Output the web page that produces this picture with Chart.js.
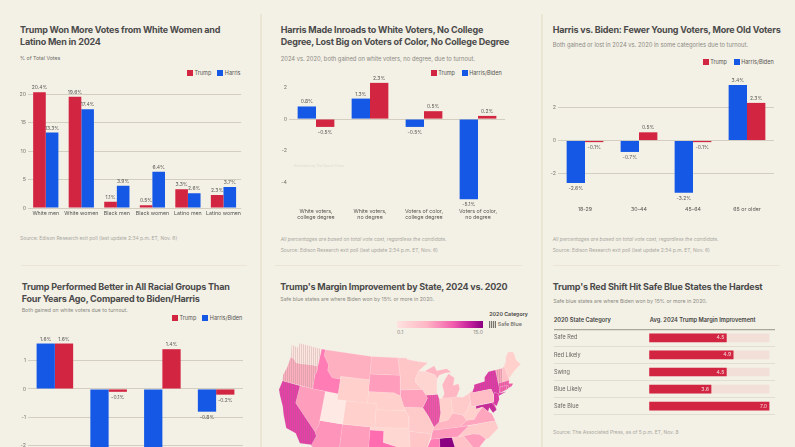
<!DOCTYPE html>
<html>
<head>
<meta charset="utf-8">
<title>Exit poll charts</title>
<script src="https://cdn.jsdelivr.net/npm/chart.js@4"></script>
<style>
  html, body { margin: 0; padding: 0; background: #f3f0e6; }
  body { position: relative; width: 795px; height: 447px; overflow: hidden; font-family: Inter, sans-serif; }
  canvas { position: absolute; }
  .t { position: absolute; white-space: nowrap; transform: translateY(-50%); }
  .title { font-size: 9px; font-weight: 700; letter-spacing: -0.2px; color: #4b4b4b; }
  .sub { font-size: 5.2px; color: #8b8b82; }
  .wide { font-size: 5.8px; }
  .src { font-size: 4.95px; color: #a9a89e; }
  .lg { font-size: 5.5px; color: #55554f; }
  .box { position: absolute; width: 6px; height: 6px; }
  .rule { position: absolute; background: #ebe5d3; }
  .hdr { font-size: 5.7px; font-weight: 600; color: #44443f; }
  .small { font-size: 5.3px; }
</style>
</head>
<body>
<script>
// =====================================
// DATA
// =====================================
const voteGroups = ["White men", "White women", "Black men", "Black women", "Latino men", "Latino women"];
const voteTrump = [20.4, 19.6, 1.1, 0.5, 3.3, 2.3];
const voteHarris = [13.3, 17.4, 3.9, 6.4, 2.6, 3.7];

const degreeGroups = [["White voters,", "college degree"], ["White voters,", "no degree"], ["Voters of color,", "college degree"], ["Voters of color,", "no degree"]];
const degreeBiden = [0.8, 1.3, -0.5, -5.1];
const degreeTrump = [-0.5, 2.3, 0.5, 0.2];

const ageGroups = ["18-29", "30-44", "45-64", "65 or older"];
const ageBiden = [-2.6, -0.7, -3.2, 3.4];
const ageTrump = [-0.1, 0.5, -0.1, 2.3];

const raceGroups = ["White", "Black", "Latino", "Other"];
const raceBiden = [1.6, -2.9, -3.6, -0.8];
const raceTrump = [1.6, -0.1, 1.4, -0.2];

const shiftCategories = ["Safe Red", "Red Likely", "Swing", "Blue Likely", "Safe Blue"];
const shiftValues = [4.5, 4.9, 4.5, 3.6, 7.0];
const shiftTrack = [7, 7, 7, 7, 7];

// state outlines as [lon, lat], roughly traced
const stateShapes = {
  WA: [[-124.7,48.4],[-123,48.2],[-122.8,49],[-117,49],[-117,46],[-119,45.9],[-121,45.7],[-122.3,45.6],[-123.2,46.2],[-124,46.3]],
  OR: [[-124,46.3],[-123.2,46.2],[-122.3,45.6],[-121,45.7],[-119,45.9],[-117,46],[-116.9,45],[-117.2,44.4],[-117,42],[-124.2,42],[-124.5,43],[-124.1,44.5]],
  CA: [[-124.2,42],[-120,42],[-120,39],[-114.6,35],[-114.1,34.3],[-114.7,32.7],[-117.1,32.5],[-118.4,34],[-120.6,34.5],[-121.9,36.6],[-122.5,37.8],[-123.8,39.5],[-124.4,40.4]],
  NV: [[-120,42],[-114,42],[-114,36.2],[-114.6,35],[-120,39]],
  ID: [[-117,49],[-116,49],[-116,48],[-114.5,46.6],[-114.4,45.6],[-113,44.5],[-111,44.5],[-111,42],[-117,42],[-117.2,44.4],[-116.9,45],[-117,46]],
  MT: [[-116,49],[-104,49],[-104,45],[-111,45],[-111,44.5],[-113,44.5],[-114.4,45.6],[-114.5,46.6],[-116,48]],
  WY: [[-111,45],[-104,45],[-104,41],[-111,41]],
  UT: [[-114,42],[-111,42],[-111,41],[-109,41],[-109,37],[-114,37]],
  AZ: [[-114,37],[-109,37],[-109,31.3],[-111,31.3],[-114.8,32.5],[-114.7,32.7],[-114.1,34.3],[-114.6,35],[-114,36.2]],
  CO: [[-109,41],[-102,41],[-102,37],[-109,37]],
  NM: [[-109,37],[-103,37],[-103,32],[-106.6,32],[-106.5,31.8],[-108.2,31.8],[-108.2,31.3],[-109,31.3]],
  ND: [[-104,49],[-97.2,49],[-96.6,46],[-104,46]],
  SD: [[-104,46],[-96.6,46],[-96.5,42.5],[-98,43],[-104,43]],
  NE: [[-104,43],[-98,43],[-96.5,42.5],[-95.4,40],[-102,40],[-102,41],[-104,41]],
  KS: [[-102,40],[-95.4,40],[-94.6,39],[-94.6,37],[-102,37]],
  OK: [[-103,37],[-94.6,37],[-94.4,33.6],[-97,33.8],[-100,34.5],[-100,36.5],[-103,36.5]],
  TX: [[-103,36.5],[-100,36.5],[-100,34.5],[-97,33.8],[-94.4,33.6],[-94,33],[-94,31],[-93.7,29.7],[-95,29],[-97.2,27.5],[-97.2,26],[-99,26.5],[-101,29.7],[-102.5,29.8],[-104.5,29.7],[-106.5,31.8],[-106.6,32],[-103,32]],
  MN: [[-97.2,49],[-95,49],[-94.7,48.7],[-92,48.3],[-89.6,48],[-92,46.7],[-92.8,45.5],[-92.8,44.7],[-91.3,43.5],[-96.5,43.5],[-96.6,46]],
  IA: [[-96.5,43.5],[-91.3,43.5],[-90.2,42],[-91.4,40.4],[-95.7,40.6],[-96.5,42.5]],
  MO: [[-95.7,40.6],[-91.4,40.4],[-90.2,38.8],[-89.2,37],[-89.7,36],[-90.4,36],[-94.6,36.5],[-94.6,39],[-95.4,40]],
  AR: [[-94.6,36.5],[-90.4,36],[-89.7,36],[-91.2,33],[-94,33],[-94.4,33.6]],
  LA: [[-94,33],[-91.2,33],[-91,31],[-89.7,31],[-89.5,30.2],[-89.2,29.2],[-91.5,29.4],[-93.7,29.7],[-94,31]],
  WI: [[-92,46.7],[-90.5,46.6],[-88,45.8],[-87.6,45.1],[-87.9,43],[-87.8,42.5],[-90.6,42.5],[-91.3,43.5],[-92.8,44.7],[-92.8,45.5]],
  IL: [[-90.6,42.5],[-87.8,42.5],[-87.5,41.7],[-87.5,39.3],[-88,37.8],[-89.2,37],[-90.2,38.8],[-91.4,40.4],[-90.2,42]],
  MI: [[-86.8,41.8],[-84.8,41.7],[-83.5,41.7],[-82.5,43],[-82.6,43.9],[-83.9,43.7],[-83.4,45],[-84.7,45.8],[-85.6,45],[-86.5,44],[-86.2,42.5]],
  MIU: [[-90.5,46.6],[-88,47.4],[-87.5,46.5],[-85,46.7],[-84,46],[-85.5,46],[-87,45.7],[-87.6,45.1],[-88,45.8]],
  IN: [[-87.5,41.7],[-86.8,41.8],[-84.8,41.7],[-84.8,39.1],[-86,38],[-88,37.8],[-87.5,39.3]],
  OH: [[-84.8,41.7],[-83.5,41.7],[-82,41.5],[-80.5,42],[-80.5,40.6],[-81.7,39],[-82.6,38.5],[-84.8,39.1]],
  KY: [[-89.2,37],[-88,37.8],[-86,38],[-84.8,39.1],[-82.6,38.5],[-82,37.5],[-83.7,36.6],[-89.5,36.5]],
  TN: [[-90,35],[-89.7,36],[-89.5,36.5],[-83.7,36.6],[-81.7,36.6],[-84.3,35]],
  MS: [[-91.2,33],[-90,35],[-88.2,35],[-88.4,30.3],[-89.5,30.2],[-89.7,31],[-91,31]],
  AL: [[-88.2,35],[-85.6,35],[-85,32.3],[-85,31],[-87.6,31],[-87.5,30.3],[-88.4,30.3]],
  GA: [[-85.6,35],[-83.1,35],[-81,32.1],[-81.5,30.7],[-82,30.4],[-85,30.7],[-85,32.3]],
  FL: [[-87.6,31],[-85,31],[-85,30.7],[-82,30.4],[-81.5,30.7],[-80,27],[-80.3,25.3],[-81.5,25.8],[-82.8,28],[-84,30],[-85.5,29.7],[-87.5,30.3]],
  SC: [[-83.1,35],[-81,35.1],[-79.7,34.8],[-78.6,33.9],[-81,32.1]],
  NC: [[-84.3,35],[-81.7,36.6],[-75.9,36.6],[-75.6,35.3],[-78,33.9],[-78.6,33.9],[-79.7,34.8],[-81,35.1],[-83.1,35]],
  VA: [[-83.7,36.6],[-75.9,36.6],[-76.3,37.9],[-77,38.4],[-78,39.3],[-79.3,38.4],[-80.3,37.5],[-82,37.5]],
  WV: [[-82.6,38.5],[-81.7,39],[-80.5,40.6],[-80.5,39.7],[-79.5,39.7],[-79.5,39.2],[-78,39.3],[-79.3,38.4],[-80.3,37.5],[-82,37.5]],
  PA: [[-80.5,42],[-79.8,42.3],[-79.8,42],[-75.3,42],[-75,41],[-75.4,39.8],[-80.5,39.7]],
  MD: [[-79.5,39.7],[-75.8,39.7],[-75.1,38.4],[-76,38],[-76.6,39],[-77,38.4],[-78,39.3],[-79.5,39.2]],
  DE: [[-75.8,39.7],[-75.4,39.8],[-75.1,38.5],[-75.7,38.5]],
  NJ: [[-75.4,39.8],[-75,41],[-74.7,41.3],[-73.9,41],[-74,40],[-74.9,39],[-75.5,39.5]],
  NY: [[-79.8,42],[-79,43],[-79,43.3],[-76.5,43.5],[-76.2,44.2],[-75,45],[-73.3,45],[-73.4,42],[-73.6,41],[-72,41],[-73.9,40.6],[-73.9,41],[-74.7,41.3],[-75,41],[-75.3,42]],
  CT: [[-73.6,41],[-73.5,42],[-71.8,42],[-71.8,41.3]],
  RI: [[-71.8,42],[-71.4,42],[-71.2,41.5],[-71.8,41.3]],
  MA: [[-73.5,42],[-73.3,42.7],[-71.3,42.7],[-70.7,42.7],[-71,42.2],[-70,42],[-70.6,41.6],[-71.2,41.5],[-71.4,42],[-71.8,42]],
  VT: [[-73.3,45],[-71.5,45],[-72.4,43],[-72.4,42.7],[-73.3,42.7]],
  NH: [[-71.5,45],[-71,45.3],[-70.7,43],[-70.7,42.7],[-71.3,42.7],[-72.4,42.7],[-72.4,43]],
  ME: [[-71,45.3],[-70.3,46],[-70,46.7],[-69.2,47.4],[-68.3,47.3],[-67.8,47],[-67.8,45.7],[-67,44.8],[-69,44],[-70.7,43]]
};

// margin improvement per state
const stateMargins = {
  WA: 0.8, OR: 4, CA: 9.8, NV: 5, ID: 7, MT: 4, WY: 2, UT: 0.5, AZ: 5.5, CO: 2, NM: 5, ND: 3.5, SD: 5, NE: 2, KS: 2,
  OK: 1.6, TX: 8, MN: 2.6, IA: 4.8, MO: 2.4, AR: 2.6, LA: 4, WI: 1.7, IL: 9, MI: 3.5, MIU: 3.5, IN: 2, OH: 2.3, KY: 3.6, TN: 5.2,
  MS: 7, AL: 15, GA: 2.8, FL: 11, SC: 5, NC: 2.4, VA: 4.6, WV: 2, PA: 3.2, MD: 12.5, DE: 9, NJ: 10.5, NY: 10.2, CT: 8.5, RI: 8.5,
  MA: 8.5, VT: 4.4, NH: 3, ME: 2
};
const safeBlueStates = ["WA", "OR", "CA", "IL", "MD", "DE", "NJ", "NY", "CT", "RI", "MA", "VT"];

// =====================================
// STYLE
// =====================================
const RED = "#d22541";
const BLUE = "#1558e6";
const GRID = "#cfcabb";
const TICK_FONT = { family: "Inter", size: 5.3 };

// =====================================
// PAGE TEXT
// =====================================
function addText(cls, x, y, str, extra) {
  const el = document.createElement("div");
  el.className = "t " + cls;
  el.style.left = x + "px";
  el.style.top = y + "px";
  el.textContent = str;
  if (extra) Object.assign(el.style, extra);
  document.body.appendChild(el);
  return el;
}

function addLegend(y, items) {
  items.forEach(it => {
    const box = document.createElement("div");
    box.className = "box";
    box.style.left = it.x + "px";
    box.style.top = (y - 3) + "px";
    box.style.background = it.color;
    document.body.appendChild(box);
    addText("lg", it.x + 7.5, y, it.label);
  });
}

function addRule(x, y, w, h) {
  const el = document.createElement("div");
  el.className = "rule";
  Object.assign(el.style, { left: x + "px", top: y + "px", width: w + "px", height: h + "px" });
  document.body.appendChild(el);
}

addRule(260, 14, 2, 433);
addRule(541, 14, 2, 433);
addRule(21, 265, 226, 1);
addRule(275, 265, 247, 1);
addRule(553, 265, 227, 1);

const SOURCE_EDISON = "Source: Edison Research exit poll (last update 2:34 p.m. ET, Nov. 6)";
const NOTE_TOTAL = "All percentages are based on total vote cast, regardless the candidate.";

addText("title", 20, 29.3, "Trump Won More Votes from White Women and");
addText("title", 20, 41, "Latino Men in 2024");
addText("sub", 20, 57.7, "% of Total Votes", { color: "#6b6b63" });
addLegend(72.5, [{ x: 187, color: RED, label: "Trump" }, { x: 217.3, color: BLUE, label: "Harris" }]);
addText("src", 20, 238, SOURCE_EDISON);

addText("title", 280.7, 29.3, "Harris Made Inroads to White Voters, No College");
addText("title", 280.7, 41, "Degree, Lost Big on Voters of Color, No College Degree");
addText("sub wide", 280.7, 58, "2024 vs. 2020, both gained on white voters, no degree, due to turnout.");
addLegend(72.5, [{ x: 430.7, color: RED, label: "Trump" }, { x: 461.7, color: BLUE, label: "Harris/Biden" }]);
addText("src", 294, 166, "Illustration by The Epoch Times", { fontSize: "3.4px", color: "#dedbcf" });
addText("src", 280.7, 238.5, NOTE_TOTAL, { fontStyle: "italic" });
addText("src", 280.7, 250, SOURCE_EDISON);

addText("title", 552.7, 29.3, "Harris vs. Biden: Fewer Young Voters, More Old Voters");
addText("sub wide", 552.7, 43.5, "Both gained or lost in 2024 vs. 2020 in some categories due to turnout.");
addLegend(62, [{ x: 702.7, color: RED, label: "Trump" }, { x: 733.7, color: BLUE, label: "Harris/Biden" }]);
addText("src", 552.7, 238.5, NOTE_TOTAL, { fontStyle: "italic" });
addText("src", 552.7, 250, SOURCE_EDISON);

addText("title", 21.7, 285.7, "Trump Performed Better in All Racial Groups Than");
addText("title", 21.7, 297.7, "Four Years Ago, Compared to Biden/Harris");
addText("sub", 21.7, 310, "Both gained on white voters due to turnout.");
addLegend(318.3, [{ x: 172, color: RED, label: "Trump" }, { x: 202.3, color: BLUE, label: "Harris/Biden" }]);

addText("title", 280.3, 285.7, "Trump's Margin Improvement by State, 2024 vs. 2020");
addText("sub", 280.3, 298.7, "Safe blue states are where Biden won by 15% or more in 2020.");

addText("title", 552.7, 285.7, "Trump's Red Shift Hit Safe Blue States the Hardest");
addText("sub", 553.3, 300.7, "Safe blue states are where Biden won by 15% or more in 2020.");
addText("hdr", 553.7, 319, "2020 State Category");
addText("hdr", 649.7, 319, "Avg. 2024 Trump Margin Improvement");
addText("src", 553, 432, "Source: The Associated Press, as of 5 p.m. ET, Nov. 8");

// map legend
const ramp = document.createElement("div");
Object.assign(ramp.style, {
  position: "absolute", left: "397px", top: "321px", width: "86px", height: "7px",
  background: "linear-gradient(90deg,#ffe3df,#ffb5c4 35%,#f25fae 65%,#c21f9c 85%,#8a0080)"
});
document.body.appendChild(ramp);
addText("sub", 397, 332, "0.1");
addText("sub", 483, 332, "15.0", { transform: "translate(-100%,-50%)" });
addText("hdr small", 489.3, 314.3, "2020 Category");
const hatchBox = document.createElement("div");
Object.assign(hatchBox.style, {
  position: "absolute", left: "489.3px", top: "320.5px", width: "7px", height: "7px",
  background: "repeating-linear-gradient(90deg,#77776f 0 1px,#d8d5ca 1px 2px)"
});
document.body.appendChild(hatchBox);
addText("hdr small", 497.7, 324, "Safe Blue", { color: "#77776f" });

// =====================================
// VALUE LABELS ON BARS
// =====================================
const valueLabels = {
  id: "valueLabels",
  afterDatasetsDraw(chart) {
    const ctx = chart.ctx;
    ctx.save();
    ctx.font = "5px Inter";
    ctx.fillStyle = "#5a5a54";
    ctx.textAlign = "center";
    chart.data.datasets.forEach((ds, i) => {
      chart.getDatasetMeta(i).data.forEach((bar, j) => {
        const v = ds.data[j];
        ctx.textBaseline = v < 0 ? "top" : "bottom";
        ctx.fillText(v.toFixed(1) + "%", bar.x, bar.y + (v < 0 ? 3 : -2));
      });
    });
    ctx.restore();
  }
};

// =====================================
// GROUPED BAR PANELS
// =====================================
function makeCanvas(left, top, width, height) {
  const c = document.createElement("canvas");
  c.width = width;
  c.height = height;
  c.style.left = left + "px";
  c.style.top = top + "px";
  document.body.appendChild(c);
  return c;
}

function groupedBars(p) {
  const yWidth = 14;
  const xHeight = p.xHeight;
  const canvas = makeCanvas(p.left - yWidth, p.top - 12, p.right - p.left + yWidth, p.bottom - p.top + xHeight + 12);
  return new Chart(canvas, {
    type: "bar",
    data: { labels: p.labels, datasets: p.series },
    plugins: [valueLabels],
    options: {
      responsive: false,
      animation: false,
      layout: { padding: { top: 12 } },
      datasets: { bar: { barPercentage: 1, categoryPercentage: p.groupShare } },
      plugins: { legend: { display: false }, tooltip: { enabled: false } },
      scales: {
        x: {
          grid: { display: false, drawTicks: false },
          border: { display: false },
          ticks: { font: TICK_FONT, color: "#55554f", padding: p.xPad, autoSkip: false, maxRotation: 0 },
          afterFit: s => { s.height = xHeight; }
        },
        y: {
          min: p.min,
          max: p.max,
          border: { display: false },
          grid: {
            drawTicks: false,
            lineWidth: 0.9,
            color: c => (c.tick.value === 0 || p.allGrid ? GRID : "transparent")
          },
          ticks: { font: TICK_FONT, color: "#77776f", stepSize: p.step, padding: 2, includeBounds: false },
          afterFit: s => { s.width = yWidth; }
        }
      }
    }
  });
}

const trumpSet = data => ({ label: "Trump", data, backgroundColor: RED });
const blueSet = (label, data) => ({ label, data, backgroundColor: BLUE });

groupedBars({
  left: 27.7, right: 243.3, top: 85.7, bottom: 208.3, min: 0, max: 21.5, step: 5, allGrid: true,
  xHeight: 12, xPad: 2, groupShare: 0.71, labels: voteGroups,
  series: [trumpSet(voteTrump), blueSet("Harris", voteHarris)]
});
groupedBars({
  left: 288.7, right: 504.7, top: 74.8, bottom: 204.3, min: -5.4, max: 2.8, step: 2, allGrid: false,
  xHeight: 18, xPad: 4, groupShare: 0.68, labels: degreeGroups,
  series: [blueSet("Harris/Biden", degreeBiden), trumpSet(degreeTrump)]
});
groupedBars({
  left: 558.3, right: 774.7, top: 79.6, bottom: 201, min: -3.7, max: 3.7, step: 2, allGrid: true,
  xHeight: 14, xPad: 5.5, groupShare: 0.68, labels: ageGroups,
  series: [blueSet("Harris/Biden", ageBiden), trumpSet(ageTrump)]
});
groupedBars({
  left: 28.3, right: 244, top: 334.5, bottom: 531, min: -5, max: 1.9, step: 1, allGrid: true,
  xHeight: 14, xPad: 4, groupShare: 0.68, labels: raceGroups,
  series: [blueSet("Harris/Biden", raceBiden), trumpSet(raceTrump)]
});

// =====================================
// STATE MAP (Albers projection on a scatter chart)
// =====================================
const N = 0.6028, C = 1.3512, RHO0 = 1.3033;
function albers([lon, lat]) {
  const theta = N * (lon + 96) * Math.PI / 180;
  const rho = Math.sqrt(C - 2 * N * Math.sin(lat * Math.PI / 180)) / N;
  return { x: rho * Math.sin(theta), y: RHO0 - rho * Math.cos(theta) };
}

const colorStops = [[0.1, [255, 240, 234]], [2, [255, 208, 204]], [4, [255, 176, 192]], [6, [255, 138, 184]], [8, [255, 109, 176]], [10, [229, 58, 168]], [13, [201, 32, 154]], [15, [138, 0, 128]]];
function marginColor(m) {
  for (let i = 1; i < colorStops.length; i++) {
    if (m <= colorStops[i][0]) {
      const [a, ca] = colorStops[i - 1];
      const [b, cb] = colorStops[i];
      const t = (m - a) / (b - a);
      return "rgb(" + ca.map((v, k) => Math.round(v + (cb[k] - v) * t)).join(",") + ")";
    }
  }
  return "rgb(138,0,128)";
}

function hatched(color) {
  const tile = document.createElement("canvas");
  tile.width = 2;
  tile.height = 2;
  const g = tile.getContext("2d");
  g.fillStyle = color;
  g.fillRect(0, 0, 2, 2);
  g.fillStyle = "rgba(120,120,110,0.22)";
  g.fillRect(0, 0, 1, 2);
  return g.createPattern(tile, "repeat");
}

const mapCanvas = makeCanvas(265, 335, 265, 180);
const ctxFill = code => {
  const col = marginColor(stateMargins[code]);
  return safeBlueStates.includes(code) ? hatched(col) : col;
};
new Chart(mapCanvas, {
  type: "scatter",
  data: {
    datasets: Object.keys(stateShapes).map(code => {
      const pts = stateShapes[code].map(albers);
      pts.push(pts[0]);
      return {
        label: code,
        data: pts,
        showLine: true,
        fill: "shape",
        backgroundColor: ctxFill(code),
        borderColor: "rgba(255,255,255,0.2)",
        borderWidth: 0.5,
        pointRadius: 0,
        tension: 0
      };
    })
  },
  options: {
    responsive: false,
    animation: false,
    layout: { padding: 0 },
    plugins: { legend: { display: false }, tooltip: { enabled: false } },
    scales: {
      x: { display: false, min: -0.4104, max: 0.3806 },
      y: { display: false, min: -0.2678, max: 0.2696 }
    }
  }
});

// =====================================
// RED SHIFT TABLE
// =====================================
const shiftCanvas = makeCanvas(553.7, 325.6, 221, 92);
new Chart(shiftCanvas, {
  type: "bar",
  data: {
    labels: shiftCategories,
    datasets: [
      { label: "Improvement", data: shiftValues, backgroundColor: RED, grouped: false, order: 1, barThickness: 8 },
      { label: "Track", data: shiftTrack, backgroundColor: "#f1dfd8", grouped: false, order: 2, barThickness: 8 }
    ]
  },
  plugins: [{
    id: "shiftLabels",
    afterDatasetsDraw(chart) {
      const ctx = chart.ctx;
      ctx.save();
      ctx.font = "5.2px Inter";
      ctx.fillStyle = "#f6d9dc";
      ctx.textAlign = "right";
      ctx.textBaseline = "middle";
      const meta = chart.getDatasetMeta(0);
      meta.data.forEach((bar, i) => ctx.fillText(shiftValues[i].toFixed(1), bar.x - 2, bar.y));
      ctx.restore();
    }
  }],
  options: {
    indexAxis: "y",
    responsive: false,
    animation: false,
    layout: { padding: 0 },
    plugins: { legend: { display: false }, tooltip: { enabled: false } },
    scales: {
      x: { display: false, min: -5.6, max: 7.35 },
      y: {
        border: { display: false },
        grid: {
          offset: true,
          drawTicks: false,
          color: c => (c.index === 0 ? "#a9a69a" : c.index === shiftCategories.length ? "transparent" : "#dcd8ca"),
          lineWidth: c => (c.index === 0 ? 1.2 : 0.8)
        },
        ticks: { mirror: true, padding: 0, font: { family: "Inter", size: 5.5 }, color: "#66665f" }
      }
    }
  }
});
</script>
</body>
</html>
